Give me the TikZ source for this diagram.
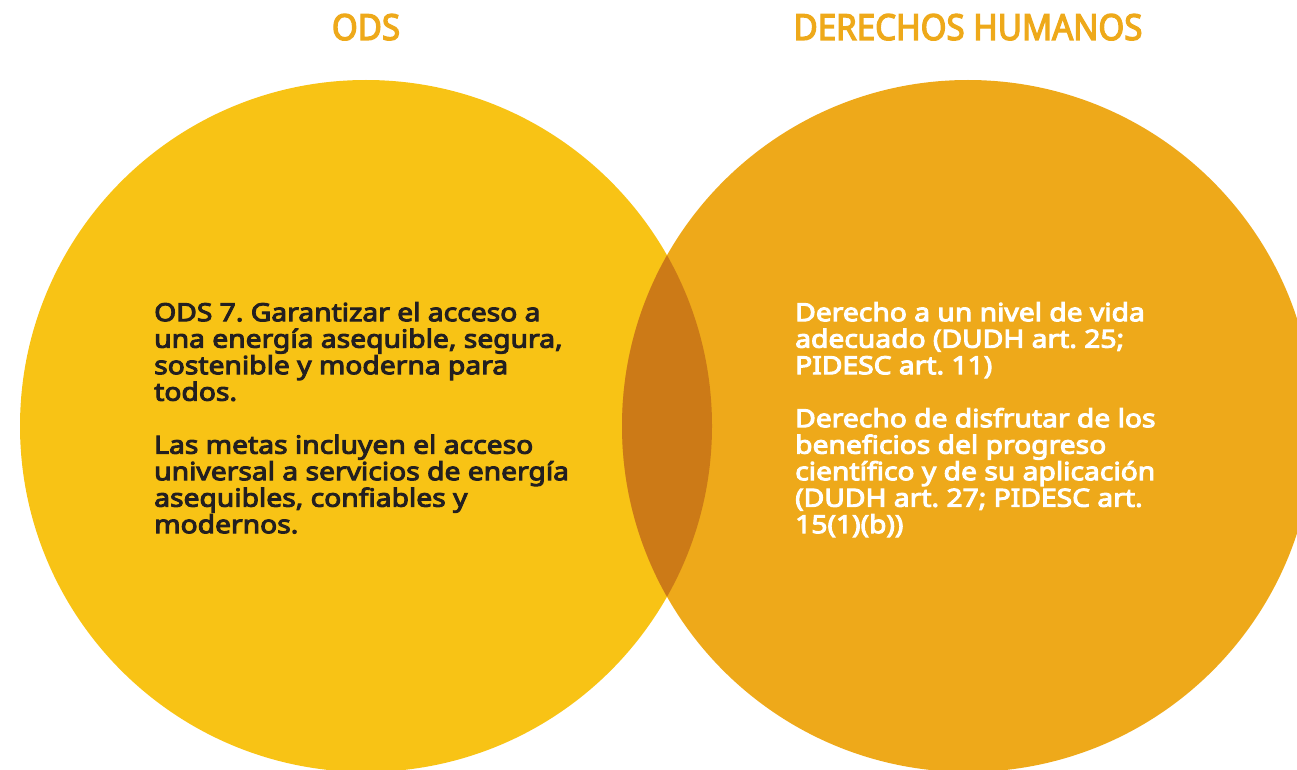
\documentclass[tikz,border=0pt]{standalone}
\usepackage{fontspec}
\setmainfont{Noto Sans}[FakeBold=4, FakeStretch=1.13]
\newfontfamily\headfont{Noto Sans}[FakeBold=3.5, FakeStretch=0.92]
\usetikzlibrary{positioning}
\frenchspacing
\definecolor{odsyellow}{RGB}{248,195,21}
\definecolor{dhorange}{RGB}{238,169,26}
\definecolor{lensbrown}{RGB}{204,122,23}
\definecolor{textdark}{RGB}{35,31,32}
\tikzset{
  heading/.style={font=\headfont\fontsize{36}{36}\selectfont, text=dhorange, inner sep=0pt, anchor=base},
  bodytext/.style={font=\fontsize{25}{26.5}\selectfont, align=left, inner sep=0pt, anchor=north west}
}
\begin{document}
\begin{tikzpicture}[x=1pt,y=-1pt]
        \useasboundingbox (0,0) rectangle (1297,770);

        \fill[odsyellow] (366,426) circle (346pt);
        \fill[dhorange] (968,426) circle (346pt);
        \begin{scope}
          \clip (366,426) circle (346pt);
          \fill[lensbrown] (968,426) circle (346pt);
        \end{scope}

        \node[heading] (odstitle) at (366,40) {ODS};
        \node[heading] (dhtitle) at (968,40) {DERECHOS HUMANOS};

        \node[bodytext, text=textdark] (odstext) at (154,302) {ODS 7. Garantizar el acceso a\\
          una energía asequible, segura,\\
          sostenible y moderna para\\
          todos.\\[26.5pt]
          Las metas incluyen el acceso\\
          universal a servicios de energía\\
          asequibles, confiables y\\
          modernos.};
        \node[bodytext, text=white] (dhtext) at (795,302) {Derecho a un nivel de vida\\
          adecuado (DUDH art. 25;\\
          PIDESC art. 11)\\[26.5pt]
          Derecho de disfrutar de los\\
          beneficios del progreso\\
          científico y de su aplicación\\
          (DUDH art. 27; PIDESC art.\\
          15(1)(b))};
      \end{tikzpicture}
\end{document}
